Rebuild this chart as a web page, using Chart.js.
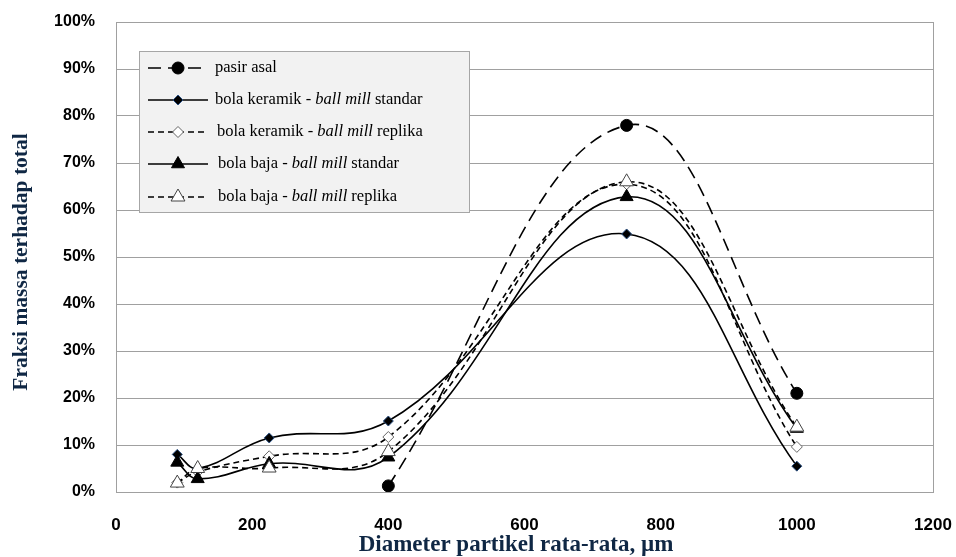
<!DOCTYPE html>
<html>
<head>
<meta charset="utf-8">
<script src="https://cdn.jsdelivr.net/npm/chart.js@4.4.1/dist/chart.umd.min.js"></script>
<style>
html,body{margin:0;padding:0;background:#fff;}
canvas{display:block;}
</style>
</head>
<body>
<canvas id="c" width="956" height="557"></canvas>
<script>
// ---- data (x in µm, y in %) ----
const diameters = [90, 120, 225, 400, 750, 1000];
const pasirX = [400, 750, 1000];
const pasirAsal = [1.3, 78, 21];
const keramikStandar = [8, 5, 11.5, 15.1, 54.9, 5.5];
const keramikReplika = [2, 4.3, 7.6, 11.7, 65.5, 9.6];
const bajaStandar = [6.3, 2.8, 6, 7.4, 62.8, 13.5];
const bajaReplika = [1.9, 5, 5.1, 8.6, 66, 13.8];
const xTicks = [0, 200, 400, 600, 800, 1000, 1200];
const yTicks = [0, 10, 20, 30, 40, 50, 60, 70, 80, 90, 100];

const seriesNames = [
  ['pasir asal'],
  ['bola keramik - ', 'ball mill', ' standar'],
  ['bola keramik - ', 'ball mill', ' replika'],
  ['bola baja - ', 'ball mill', ' standar'],
  ['bola baja - ', 'ball mill', ' replika']
];

function pts(xs, ys){ return xs.map((x,i)=>({x:x, y:ys[i]})); }

const longDash = [13, 7];
const shortDash = [6, 4];

const datasets = [
  {label:'pasir asal', data:pts(pasirX,pasirAsal), borderColor:'#000', borderWidth:1.6, borderDash:longDash,
   pointStyle:'circle', pointRadius:6, pointBackgroundColor:'#000', pointBorderColor:'#000', pointBorderWidth:1, order:4},
  {label:'keramik standar', data:pts(diameters,keramikStandar), borderColor:'#000', borderWidth:1.6, borderDash:[],
   pointStyle:'rectRot', pointRadius:5, pointBackgroundColor:'#000', pointBorderColor:'#2a4f80', pointBorderWidth:1, order:3},
  {label:'keramik replika', data:pts(diameters,keramikReplika), borderColor:'#000', borderWidth:1.6, borderDash:shortDash,
   pointStyle:'rectRot', pointRadius:5.5, pointBackgroundColor:'#fff', pointBorderColor:'#666', pointBorderWidth:1, order:2},
  {label:'baja standar', data:pts(diameters,bajaStandar), borderColor:'#000', borderWidth:1.6, borderDash:[],
   pointStyle:'triangle', pointRadius:7.5, pointBackgroundColor:'#000', pointBorderColor:'#000', pointBorderWidth:1, order:1},
  {label:'baja replika', data:pts(diameters,bajaReplika), borderColor:'#000', borderWidth:1.6, borderDash:shortDash,
   pointStyle:'triangle', pointRadius:8, pointBackgroundColor:'#fff', pointBorderColor:'#444', pointBorderWidth:1, order:0}
];
datasets.forEach(d=>{ d.tension=0.4; d.showLine=true; d.fill=false; d.pointHoverRadius=d.pointRadius; });

function drawMarker(ctx, ds, x, y){
  ctx.save();
  ctx.setLineDash([]);
  ctx.fillStyle = ds.pointBackgroundColor;
  ctx.strokeStyle = ds.pointBorderColor;
  ctx.lineWidth = ds.pointBorderWidth;
  const r = ds.pointRadius;
  ctx.beginPath();
  if (ds.pointStyle === 'circle') {
    ctx.arc(x, y, r, 0, Math.PI*2);
  } else if (ds.pointStyle === 'rectRot') {
    ctx.moveTo(x, y-r); ctx.lineTo(x+r, y); ctx.lineTo(x, y+r); ctx.lineTo(x-r, y); ctx.closePath();
  } else {
    ctx.moveTo(x, y - r); ctx.lineTo(x + r*0.866, y + r*0.5); ctx.lineTo(x - r*0.866, y + r*0.5); ctx.closePath();
  }
  ctx.fill(); ctx.stroke();
  ctx.restore();
}

const decorPlugin = {
  id:'decor',
  beforeDatasetsDraw(chart){
    const ctx = chart.ctx, a = chart.chartArea;
    ctx.save();
    ctx.strokeStyle = '#a0a0a0'; ctx.lineWidth = 1;
    ctx.strokeRect(Math.round(a.left)+0.5, Math.round(a.top)+0.5, Math.round(a.right-a.left), Math.round(a.bottom-a.top));
    ctx.restore();
  },
  afterDraw(chart){
    const ctx = chart.ctx;
    ctx.save();
    // axis titles
    ctx.fillStyle = '#0f2744';
    ctx.textAlign = 'center'; ctx.textBaseline = 'middle';
    ctx.font = 'bold 23px "Liberation Serif", "Times New Roman", serif';
    ctx.fillText('Diameter partikel rata-rata, \u00b5m', 516, 545);
    ctx.save();
    ctx.font = 'bold 21.5px "Liberation Serif", "Times New Roman", serif';
    ctx.translate(21, 262); ctx.rotate(-Math.PI/2);
    ctx.fillText('Fraksi massa terhadap total', 0, 0);
    ctx.restore();
    // legend box
    const bx = 139, by = 51, bw = 330, bh = 161;
    ctx.fillStyle = '#f2f2f2';
    ctx.fillRect(bx, by, bw, bh);
    ctx.strokeStyle = '#a6a6a6'; ctx.lineWidth = 1;
    ctx.strokeRect(bx+0.5, by+0.5, bw, bh);
    const rowY = [68, 100, 132, 164, 197];
    const textX = [215, 215, 217, 218, 218];
    datasets.forEach((ds, i)=>{
      const y = rowY[i];
      ctx.save();
      ctx.strokeStyle = '#000'; ctx.lineWidth = 1.6;
      ctx.setLineDash(ds.borderDash);
      ctx.beginPath(); ctx.moveTo(148, y); ctx.lineTo(208, y); ctx.stroke();
      ctx.restore();
      drawMarker(ctx, ds, 178, y);
      let x = textX[i];
      ctx.fillStyle = '#000';
      ctx.textAlign = 'left'; ctx.textBaseline = 'middle';
      seriesNames[i].forEach((part, j)=>{
        ctx.font = (j === 1 ? 'italic ' : '') + '16.5px "Liberation Serif", "Times New Roman", serif';
        ctx.fillText(part, x, y);
        x += ctx.measureText(part).width;
      });
    });
    ctx.restore();
  }
};

new Chart(document.getElementById('c'), {
  type:'scatter',
  data:{datasets:datasets},
  plugins:[decorPlugin],
  options:{
    responsive:false,
    animation:false,
    devicePixelRatio:1,
    layout:{padding:{left:0, top:22, right:23, bottom:0}},
    plugins:{legend:{display:false}, tooltip:{enabled:false}, title:{display:false}},
    elements:{line:{capBezierPoints:true}},
    scales:{
      x:{
        type:'linear', min:0, max:1200,
        afterBuildTicks(s){ s.ticks = xTicks.map(v=>({value:v})); },
        afterFit(s){ s.height = 65; s.paddingLeft = 0; s.paddingRight = 0; },
        grid:{display:false, drawTicks:false},
        border:{display:true, color:'#a0a0a0'},
        ticks:{color:'#000', font:{family:'"Liberation Sans", Arial, sans-serif', size:17, weight:'bold'}, padding:23, maxRotation:0, callback:v=>String(v)}
      },
      y:{
        type:'linear', min:0, max:100,
        afterBuildTicks(s){ s.ticks = yTicks.map(v=>({value:v})); },
        afterFit(s){ s.width = 116; s.paddingTop = 0; s.paddingBottom = 0; },
        grid:{color:'#a0a0a0', lineWidth:1, drawTicks:false},
        border:{display:true, color:'#a0a0a0'},
        ticks:{color:'#000', font:{family:'"Liberation Sans", Arial, sans-serif', size:16, weight:'bold'}, padding:21, callback:v=>v+'%'}
      }
    }
  }
});
</script>
</body>
</html>
